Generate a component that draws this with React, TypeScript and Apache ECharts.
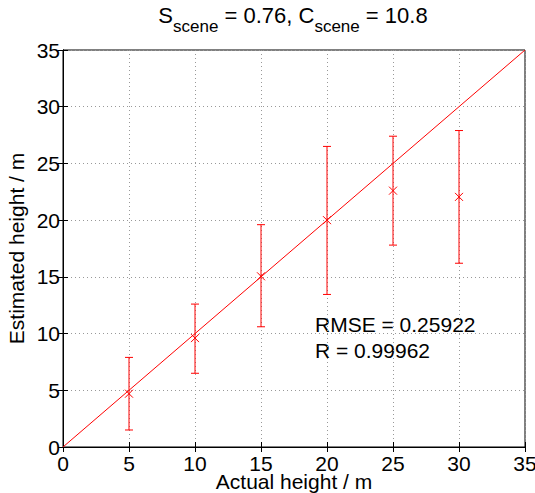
import React, { useEffect, useRef } from "react";
import * as echarts from "echarts";

const xTicks = [0, 5, 10, 15, 20, 25, 30, 35];
const actual = [5, 10, 15, 20, 25, 30];
const estimated = [4.7, 9.6, 15.05, 20.0, 22.6, 22.05];
const upper = [7.9, 12.6, 19.6, 26.5, 27.4, 27.9];
const lower = [1.5, 6.5, 10.6, 13.45, 17.8, 16.2];
const identityLine = [[0, 0], [35, 35]];
const statsLines = ["RMSE = 0.25922", "R = 0.99962"];

const FONT = "'Liberation Sans', Arial, Helvetica, sans-serif";
const RED = "#ff0000";
const FS = 21;

export default function App() {
  const ref = useRef<HTMLDivElement>(null);
  useEffect(() => {
    document.body.style.margin = "0";
    const chart = echarts.init(ref.current!, null, { renderer: "svg" });
    const errData = actual.map((x, i) => [x, estimated[i], lower[i], upper[i]]);
    const axisCommon = {
      type: "value",
      min: xTicks[0],
      max: xTicks[xTicks.length - 1],
      interval: 5,
    };
    const option: any = {
      animation: false,
      grid: {
        left: 63,
        right: 10,
        top: 50,
        bottom: 46,
        show: true,
        borderColor: "#000",
        borderWidth: 1,
        backgroundColor: "transparent",
        containLabel: false,
        outerBoundsMode: "none",
      },
      xAxis: [
        {
          ...axisCommon,
          position: "bottom",
          axisLine: { show: true, lineStyle: { color: "#000", width: 1 } },
          axisTick: { show: true, inside: true, length: 5, lineStyle: { color: "#000" } },
          axisLabel: { color: "#000", fontSize: FS, fontFamily: FONT, margin: 7, lineHeight: 18 },
          splitLine: { show: true, lineStyle: { type: [1, 3], color: "#999", width: 1 } },
          name: "Actual height / m",
          nameLocation: "middle",
          nameGap: 24,
          nameMoveOverlap: false,
          nameTextStyle: { color: "#000", fontSize: FS, fontFamily: FONT },
        },
        {
          ...axisCommon,
          position: "top",
          axisLine: { show: true, lineStyle: { color: "#000", width: 1 } },
          axisTick: { show: true, inside: true, length: 5, lineStyle: { color: "#000" } },
          axisLabel: { show: false },
          splitLine: { show: false },
        },
      ],
      yAxis: [
        {
          ...axisCommon,
          position: "left",
          axisLine: { show: true, lineStyle: { color: "#000", width: 1 } },
          axisTick: { show: true, inside: true, length: 5, lineStyle: { color: "#000" } },
          axisLabel: { color: "#000", fontSize: FS, fontFamily: FONT, margin: 3 },
          splitLine: { show: true, lineStyle: { type: [1, 3], color: "#999", width: 1 } },
          name: "Estimated height / m",
          nameLocation: "middle",
          nameGap: 36,
          nameMoveOverlap: false,
          nameRotate: 90,
          nameTextStyle: { color: "#000", fontSize: FS, fontFamily: FONT },
        },
        {
          ...axisCommon,
          position: "right",
          axisLine: { show: true, lineStyle: { color: "#000", width: 1 } },
          axisTick: { show: true, inside: true, length: 5, lineStyle: { color: "#000" } },
          axisLabel: { show: false },
          splitLine: { show: false },
        },
      ],
      graphic: [
        {
          type: "text",
          x: 293,
          y: 4,
          style: {
            text: "{n|S}{s|scene}{n| = 0.76, C}{s|scene}{n| = 10.8}",
            align: "center",
            verticalAlign: "top",
            rich: {
              n: { fontSize: 22, fontFamily: FONT, fill: "#000", lineHeight: 32, verticalAlign: "top" },
              s: { fontSize: 17, fontFamily: FONT, fill: "#000", lineHeight: 32, verticalAlign: "top", padding: [14, 0, 0, 0] },
            },
          },
        },
        {
          type: "text",
          x: 315,
          y: 311,
          style: {
            text: statsLines.join("\n"),
            fontSize: FS,
            fontFamily: FONT,
            fill: "#000",
            lineHeight: 26.5,
          },
        },
      ],
      series: [
        {
          type: "line",
          data: identityLine,
          xAxisIndex: 0,
          yAxisIndex: 0,
          symbol: "none",
          lineStyle: { color: RED, width: 1 },
          silent: true,
        },
        {
          type: "custom",
          xAxisIndex: 0,
          yAxisIndex: 0,
          data: errData,
          renderItem: (params: any, api: any) => {
            const x = api.value(0);
            const y = api.value(1);
            const lo = api.value(2);
            const hi = api.value(3);
            const pMid = api.coord([x, y]);
            const pLo = api.coord([x, lo]);
            const pHi = api.coord([x, hi]);
            const cw = 4;
            const m = 4;
            const style = { stroke: RED, lineWidth: 1, fill: "none" };
            return {
              type: "group",
              children: [
                { type: "line", shape: { x1: pLo[0], y1: pLo[1], x2: pHi[0], y2: pHi[1] }, style },
                { type: "line", shape: { x1: pLo[0] - cw, y1: pLo[1], x2: pLo[0] + cw, y2: pLo[1] }, style },
                { type: "line", shape: { x1: pHi[0] - cw, y1: pHi[1], x2: pHi[0] + cw, y2: pHi[1] }, style },
                { type: "line", shape: { x1: pMid[0] - m, y1: pMid[1] - m, x2: pMid[0] + m, y2: pMid[1] + m }, style },
                { type: "line", shape: { x1: pMid[0] - m, y1: pMid[1] + m, x2: pMid[0] + m, y2: pMid[1] - m }, style },
              ],
            };
          },
        },
      ],
    };
    chart.setOption(option);
    return () => chart.dispose();
  }, []);
  return <div ref={ref} style={{ width: 535, height: 493 }} />;
}
